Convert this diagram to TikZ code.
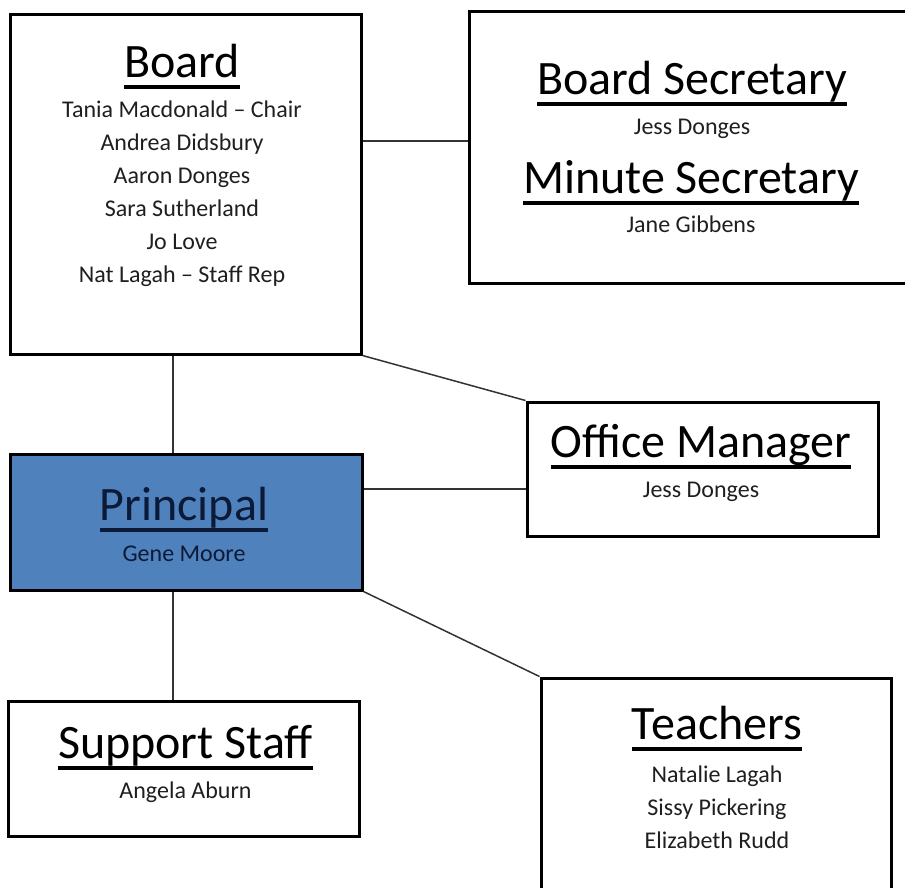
\documentclass[tikz,border=0pt]{standalone}
\usepackage{fontspec}
\setmainfont{Carlito}
\definecolor{principalblue}{HTML}{4F81BD}
\definecolor{principalink}{HTML}{0B1A36}
\newcommand{\ulhead}[1]{\setbox0=\hbox{#1}\leavevmode\hbox{\rlap{\vrule width\wd0 height -0.17em depth 0.25em}\box0}}

\begin{document}
\begin{tikzpicture}[x=1pt, y=-1pt]
  \tikzset{ box/.style={draw, line width=3pt, rectangle, inner sep=0pt},
    head/.style={anchor=base, font=\fontsize{48}{54}\selectfont},
    member/.style={anchor=base, text=black!88, font=\fontsize{24}{28}\selectfont},
    link/.style={line width=1.5pt, black!80},
  }
  \useasboundingbox (0,0) rectangle (905,887);
  \clip (0,0) rectangle (905,887);

  % boxes
  \node[box, minimum width=351pt, minimum height=340pt] (board) at (185.5, 184) {};
  \node[box, minimum width=470pt, minimum height=272pt] (bsec) at (704, 147) {};
  \node[box, minimum width=351pt, minimum height=134pt] (office) at (702.5, 469) {};
  \node[box, fill=principalblue, minimum width=352pt, minimum height=136pt] (principal) at (186, 522) {};
  \node[box, minimum width=351pt, minimum height=135pt] (support) at (183.5, 768.5) {};
  \node[box, minimum width=350pt, minimum height=242pt] (teachers) at (716, 799) {};

  % lines
  \draw[link] (board.east |- 0,141) -- (bsec.west |- 0,141);
  \draw[link] (board.south -| 173,0) -- (principal.north -| 173,0);
  \draw[link] (board.south east) -- (office.north west);
  \draw[link] (principal.east |- 0,489) -- (office.west |- 0,489);
  \draw[link] (principal.south east) -- (teachers.north west);
  \draw[link] (principal.south -| 173,0) -- (support.north -| 173,0);

  % Board
  \node[head] (boardhead) at (182, 77) {\ulhead{Board}};
  \foreach \n [count=\i] in {Tania Macdonald -- Chair, Andrea Didsbury, Aaron Donges,
    Sara Sutherland, Jo Love, Nat Lagah -- Staff Rep}
    \node[member] (bm\i) at (182, 117+33*\i-33) {\n};

  % Secretaries
  \node[head] (bsechead) at (692, 94) {\ulhead{Board Secretary}};
  \node[member] (bsecname) at (692, 134) {Jess Donges};
  \node[head] (msechead) at (691, 193) {\ulhead{Minute Secretary}};
  \node[member] (msecname) at (691, 232) {Jane Gibbens};

  % Office Manager
  \node[head] (officehead) at (701, 457) {\ulhead{Office Manager}};
  \node[member] (officename) at (701, 497) {Jess Donges};

  % Principal
  \node[head, text=principalink] (principalhead) at (184, 520) {\ulhead{Principal}};
  \node[member, text=principalink] (principalname) at (184, 561) {Gene Moore};

  % Support Staff
  \node[head] (supporthead) at (185.5, 758) {\ulhead{Support Staff}};
  \node[member] (supportname) at (185.5, 798) {Angela Aburn};

  % Teachers
  \node[head] (teachershead) at (717, 739) {\ulhead{Teachers}};
  \foreach \n [count=\i] in {Natalie Lagah, Sissy Pickering, Elizabeth Rudd}
    \node[member] (tm\i) at (717, 782+33*\i-33) {\n};
\end{tikzpicture}
\end{document}
